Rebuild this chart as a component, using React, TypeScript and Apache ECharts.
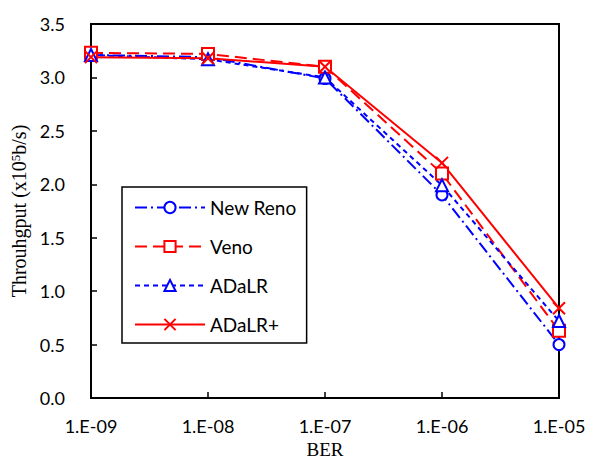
import React, { useEffect, useRef } from "react";
import * as echarts from "echarts";

const ber = [1e-9, 1e-8, 1e-7, 1e-6, 1e-5];
const newReno = [3.21, 3.19, 2.99, 1.9, 0.5];
const veno = [3.23, 3.22, 3.1, 2.1, 0.63];
const adalr = [3.21, 3.17, 3.0, 1.99, 0.72];
const adalrPlus = [3.19, 3.18, 3.1, 2.2, 0.84];

const BLUE = "#0000ff";
const RED = "#ff0000";
const CROSS = "path://M0,0L10,10M10,0L0,10";

function fmtBer(v: number) {
  const e = Math.round(Math.log10(v));
  const s = String(Math.abs(e)).padStart(2, "0");
  return "1.E" + (e < 0 ? "-" : "+") + s;
}

export default function App() {
  const ref = useRef<HTMLDivElement>(null);
  useEffect(() => {
    const chart = echarts.init(ref.current!, null, { renderer: "svg" });
    const mk = (arr: number[]) => ber.map((x, i) => [x, arr[i]]);
    const tick = { fontFamily: "Lato", fontSize: 18, color: "#000" };
    chart.setOption({
      animation: false,
      backgroundColor: "#fff",
      grid: {
        left: 91,
        right: 31,
        top: 24,
        bottom: 63,
        show: true,
        borderColor: "#000",
        borderWidth: 2,
        containLabel: false,
        outerBoundsMode: "none",
      },
      legend: {
        orient: "vertical",
        left: 122,
        top: 187,
        itemWidth: 70,
        itemHeight: 14,
        itemGap: 20,
        padding: [11, 10, 9, 12],
        borderColor: "#000",
        borderWidth: 1.5,
        textStyle: { fontFamily: "Lato", fontSize: 19, color: "#000" },
        data: ["New Reno", "Veno", "ADaLR", "ADaLR+"],
      },
      xAxis: {
        type: "log",
        logBase: 10,
        min: 1e-9,
        max: 1e-5,
        name: "BER",
        nameLocation: "middle",
        nameGap: 42,
        nameTextStyle: { fontFamily: "Liberation Serif", fontSize: 19, color: "#000" },
        axisLine: { lineStyle: { color: "#000", width: 2 } },
        axisTick: { inside: true, length: 6, lineStyle: { color: "#000", width: 1.5 } },
        minorTick: { show: false },
        splitLine: { show: false },
        axisLabel: { ...tick, margin: 19, formatter: (v: number) => fmtBer(v) },
      },
      yAxis: {
        type: "value",
        min: 0,
        max: 3.5,
        interval: 0.5,
        name: "Throuhgput (x10{sup|5}b/s)",
        nameLocation: "middle",
        nameGap: 60,
        nameTextStyle: {
          fontFamily: "Liberation Serif",
          fontSize: 20,
          color: "#000",
          rich: {
            sup: { fontFamily: "Liberation Serif", fontSize: 13, color: "#000", verticalAlign: "top", padding: [0, 0, 7, 0] },
          },
        },
        axisLine: { show: true, lineStyle: { color: "#000", width: 2 } },
        axisTick: { show: true, inside: true, length: 6, lineStyle: { color: "#000", width: 1.5 } },
        splitLine: { show: false },
        axisLabel: { ...tick, margin: 26, formatter: (v: number) => v.toFixed(1) },
      },
      series: [
        {
          name: "New Reno",
          type: "line",
          data: mk(newReno),
          color: BLUE,
          symbol: "emptyCircle",
          symbolSize: 11,
          lineStyle: { color: BLUE, width: 2, type: [12, 4, 2, 4] },
          itemStyle: { color: BLUE, borderColor: BLUE, borderWidth: 1.5 },
        },
        {
          name: "Veno",
          type: "line",
          data: mk(veno),
          color: RED,
          symbol: "emptyRect",
          symbolSize: 12,
          lineStyle: { color: RED, width: 2, type: [12, 6] },
          itemStyle: { color: RED, borderColor: RED, borderWidth: 1.5 },
        },
        {
          name: "ADaLR",
          type: "line",
          data: mk(adalr),
          color: BLUE,
          symbol: "emptyTriangle",
          symbolSize: 12,
          lineStyle: { color: BLUE, width: 2, type: [5, 4] },
          itemStyle: { color: BLUE, borderColor: BLUE, borderWidth: 1.5 },
        },
        {
          name: "ADaLR+",
          type: "line",
          data: mk(adalrPlus),
          color: RED,
          symbol: CROSS,
          symbolSize: 12,
          lineStyle: { color: RED, width: 2, type: "solid" },
          itemStyle: { color: RED, borderColor: RED, borderWidth: 2 },
        },
      ],
    });
    return () => chart.dispose();
  }, []);
  return <div ref={ref} style={{ width: 590, height: 461, position: "absolute", left: 0, top: 0 }} />;
}
